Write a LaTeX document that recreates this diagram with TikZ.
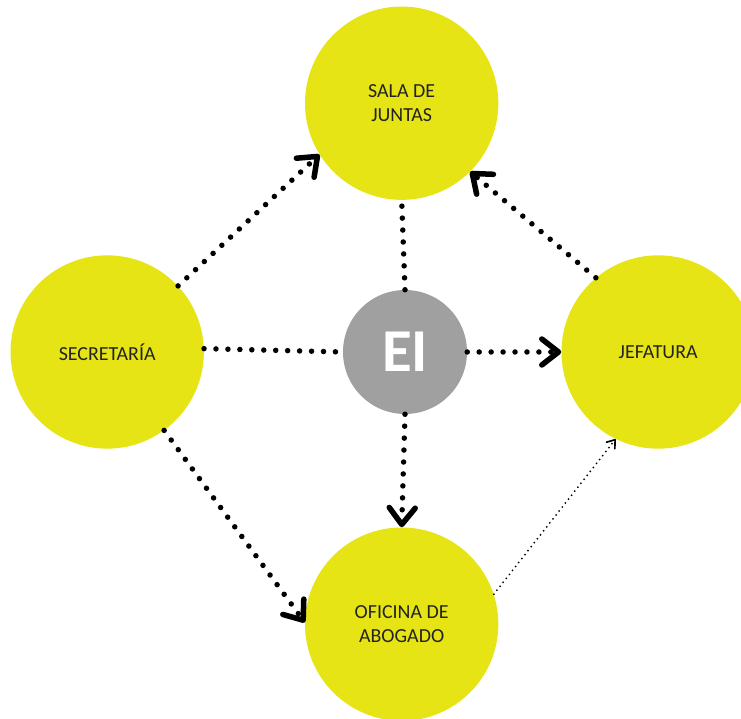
\documentclass[tikz,border=0pt]{standalone}
\usepackage{fontspec}
\setmainfont{Carlito}
\usetikzlibrary{arrows.meta,positioning}
\definecolor{yel}{RGB}{231,228,22}
\definecolor{eigray}{RGB}{160,160,160}
\definecolor{txt}{RGB}{35,35,35}

\begin{document}
\begin{tikzpicture}[
  font=\fontsize{17}{21}\selectfont,
  room/.style={circle, fill=yel, text=txt, minimum size=5.8cm, inner sep=0pt, align=center},
  core/.style={circle, fill=eigray, text=white, minimum size=3.72cm, inner sep=0pt,
               font=\fontsize{52}{52}\selectfont\bfseries},
  dots/.style={line width=4.7pt, line cap=round, dash pattern=on 0pt off 10.2pt},
  link/.style={dots, -{Straight Barb[length=0.5cm, width=0.78cm, line width=4.7pt, round]}},
  faint/.style={line width=1.7pt, line cap=round, dash pattern=on 0pt off 4.3pt,
                -{Straight Barb[length=0.22cm, width=0.32cm, line width=1.4pt, round]}},
]
\useasboundingbox (-12.15,-11.01) rectangle (10.08,10.56);

\node[core] (ei) {EI};
\node[room, above=2.69cm of ei, xshift=-0.1cm] (sala) {SALA DE\\JUNTAS};
\node[room, left=4.16cm of ei] (sec) {SECRETARÍA};
\node[room, right=2.82cm of ei] (jef) {JEFATURA};
\node[room, below=3.39cm of ei, xshift=-0.1cm] (ofi) {OFICINA DE\\ABOGADO};

\draw[link] (sec.43) -- (sala.212);
\draw[dots] (ei.north) -- (sala.south);
\draw[link] (jef.130) -- (sala.315);
\draw[dots] (sec.2) -- (ei.west);
\draw[link] (ei.east) -- (jef.west);
\draw[link] (ei.south) -- (ofi.north);
\draw[link] (sec.-54) -- (ofi.179);
\draw[faint] (ofi.18) -- (jef.244);

\end{tikzpicture}
\end{document}
